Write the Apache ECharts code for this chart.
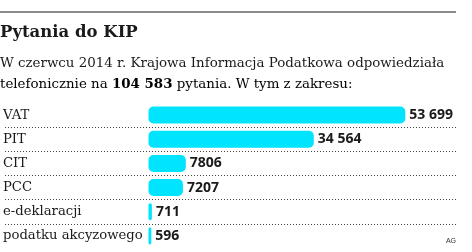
<!DOCTYPE html>
<html><head><meta charset="utf-8">
<script src="https://cdn.jsdelivr.net/npm/echarts@6/dist/echarts.min.js"></script>
<style>html,body{margin:0;padding:0;background:#fff}#c{width:472px;height:252px}</style>
</head><body><div id="c"></div>
<script>
const categories = ['VAT', 'PIT', 'CIT', 'PCC', 'e-deklaracji', 'podatku akcyzowego'];
const values = [53699, 34564, 7806, 7207, 711, 596];
const titleText = 'Pytania do KIP';
const subLine1 = 'W czerwcu 2014 r. Krajowa Informacja Podatkowa odpowiedziała';
const subLine2a = 'telefonicznie na ';
const subTotal = '104 583';
const subLine2b = ' pytania. W tym z zakresu:';
const sourceText = 'AG';

function fmt(v){ return v >= 10000 ? String(v).replace(/\B(?=(\d{3})+(?!\d))/g, ' ') : String(v); }

const chart = echarts.init(document.getElementById('c'), null, {renderer:'canvas'});
const serif = '"DejaVu Serif", serif';
chart.setOption({
  animation:false,
  grid:{left:0, right:16, top:103, bottom:4, containLabel:false},
  xAxis:{type:'value', min:-30000, max:64300, show:false},
  yAxis:{type:'category', data:categories, inverse:true, offset:2,
    axisLine:{show:false}, axisTick:{show:false},
    axisLabel:{inside:true, margin:0, align:'left', fontFamily:serif, fontSize:13.2, color:'#1a1a1a', padding:[3,0,0,0]},
    splitLine:{show:true, showMinLine:false, showMaxLine:false, lineStyle:{type:[1,2], color:'#444', width:1}}
  },
  series:[{type:'bar', data:values, barWidth:17,
    itemStyle:{color:'#00E4FF', borderRadius:5},
    label:{show:true, position:'right', distance:4, formatter:p=>fmt(p.value),
      fontFamily:'"Open Sans", sans-serif', fontWeight:'bold', fontSize:14, color:'#1a1a1a'}
  }],
  graphic:[
    {type:'line', shape:{x1:0, y1:12, x2:456, y2:12}, style:{stroke:'#666', lineWidth:1.5}},
    {type:'text', left:0, top:24, style:{text:titleText, font:'bold 16.5px '+serif, fill:'#1a1a1a'}},
    {type:'text', left:0, top:57, style:{text:subLine1, font:'13.4px '+serif, fill:'#1a1a1a'}},
    {type:'text', left:0, top:78, style:{
      text:'{n|'+subLine2a+'}{b|'+subTotal+'}{n|'+subLine2b+'}',
      rich:{n:{fontFamily:serif, fontSize:13.4, color:'#1a1a1a'},
            b:{fontFamily:serif, fontSize:13.4, fontWeight:'bold', color:'#1a1a1a'}}}},
    {type:'text', right:16, top:238, style:{text:sourceText, font:'7px sans-serif', fill:'#333'}}
  ]
});
</script></body></html>
